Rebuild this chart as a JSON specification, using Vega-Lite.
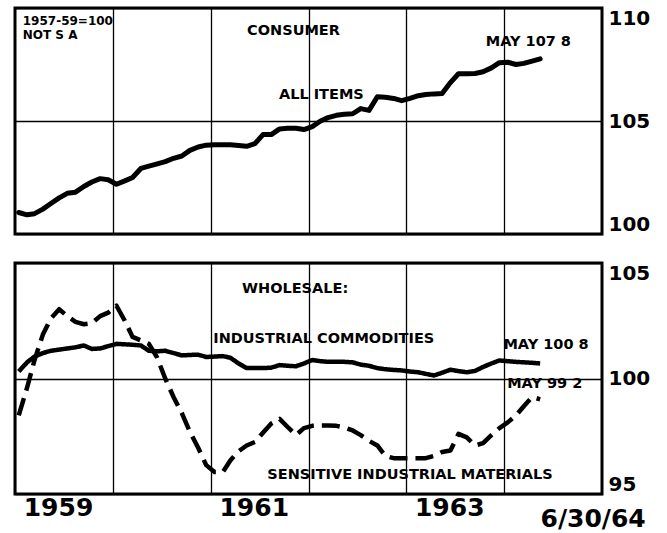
{
  "$schema": "https://vega.github.io/schema/vega-lite/v6.json",
  "padding": {"left": 13, "top": 6, "right": 0, "bottom": 0},
  "background": "white",
  "spacing": 25,
  "config": {
    "view": {"stroke": "black", "strokeWidth": 3},
    "axis": {"gridColor": "black", "gridOpacity": 1, "gridWidth": 1.3, "domain": false, "ticks": false, "labelFont": "DejaVu Sans", "labelFontWeight": "bold", "labelColor": "black"},
    "text": {"font": "DejaVu Sans", "fontWeight": "bold", "color": "black"}
  },
  "datasets": {
    "cpi": [
      {"date": "1959-01-15", "value": 100.95}, {"date": "1959-02-15", "value": 100.85}, {"date": "1959-03-15", "value": 100.9}, {"date": "1959-04-15", "value": 101.1}, {"date": "1959-05-15", "value": 101.35}, {"date": "1959-06-15", "value": 101.6}, {"date": "1959-07-15", "value": 101.8}, {"date": "1959-08-15", "value": 101.85}, {"date": "1959-09-15", "value": 102.1}, {"date": "1959-10-15", "value": 102.3}, {"date": "1959-11-15", "value": 102.45}, {"date": "1959-12-15", "value": 102.4},
      {"date": "1960-01-15", "value": 102.2}, {"date": "1960-02-15", "value": 102.35}, {"date": "1960-03-15", "value": 102.5}, {"date": "1960-04-15", "value": 102.9}, {"date": "1960-05-15", "value": 103.0}, {"date": "1960-06-15", "value": 103.1}, {"date": "1960-07-15", "value": 103.2}, {"date": "1960-08-15", "value": 103.35}, {"date": "1960-09-15", "value": 103.45}, {"date": "1960-10-15", "value": 103.7}, {"date": "1960-11-15", "value": 103.85}, {"date": "1960-12-15", "value": 103.93},
      {"date": "1961-01-15", "value": 103.95}, {"date": "1961-02-15", "value": 103.95}, {"date": "1961-03-15", "value": 103.95}, {"date": "1961-04-15", "value": 103.92}, {"date": "1961-05-15", "value": 103.88}, {"date": "1961-06-15", "value": 104.0}, {"date": "1961-07-15", "value": 104.4}, {"date": "1961-08-15", "value": 104.4}, {"date": "1961-09-15", "value": 104.65}, {"date": "1961-10-15", "value": 104.68}, {"date": "1961-11-15", "value": 104.68}, {"date": "1961-12-15", "value": 104.62},
      {"date": "1962-01-15", "value": 104.75}, {"date": "1962-02-15", "value": 105.0}, {"date": "1962-03-15", "value": 105.15}, {"date": "1962-04-15", "value": 105.25}, {"date": "1962-05-15", "value": 105.3}, {"date": "1962-06-15", "value": 105.32}, {"date": "1962-07-15", "value": 105.55}, {"date": "1962-08-15", "value": 105.47}, {"date": "1962-09-15", "value": 106.07}, {"date": "1962-10-15", "value": 106.05}, {"date": "1962-11-15", "value": 106.0}, {"date": "1962-12-15", "value": 105.9},
      {"date": "1963-01-15", "value": 106.0}, {"date": "1963-02-15", "value": 106.12}, {"date": "1963-03-15", "value": 106.17}, {"date": "1963-04-15", "value": 106.2}, {"date": "1963-05-15", "value": 106.22}, {"date": "1963-06-15", "value": 106.7}, {"date": "1963-07-15", "value": 107.09}, {"date": "1963-08-15", "value": 107.09}, {"date": "1963-09-15", "value": 107.1}, {"date": "1963-10-15", "value": 107.18}, {"date": "1963-11-15", "value": 107.35}, {"date": "1963-12-15", "value": 107.58},
      {"date": "1964-01-15", "value": 107.6}, {"date": "1964-02-15", "value": 107.5}, {"date": "1964-03-15", "value": 107.55}, {"date": "1964-04-15", "value": 107.65}, {"date": "1964-05-15", "value": 107.75}
    ],
    "wpi": [
      {"date": "1959-01-15", "series": "Industrial commodities", "value": 100.3}, {"date": "1959-02-15", "series": "Industrial commodities", "value": 100.7}, {"date": "1959-03-15", "series": "Industrial commodities", "value": 100.95}, {"date": "1959-04-15", "series": "Industrial commodities", "value": 101.1}, {"date": "1959-05-15", "series": "Industrial commodities", "value": 101.2}, {"date": "1959-06-15", "series": "Industrial commodities", "value": 101.25}, {"date": "1959-07-15", "series": "Industrial commodities", "value": 101.3}, {"date": "1959-08-15", "series": "Industrial commodities", "value": 101.35}, {"date": "1959-09-15", "series": "Industrial commodities", "value": 101.43}, {"date": "1959-10-15", "series": "Industrial commodities", "value": 101.28}, {"date": "1959-11-15", "series": "Industrial commodities", "value": 101.3}, {"date": "1959-12-15", "series": "Industrial commodities", "value": 101.4},
      {"date": "1960-01-15", "series": "Industrial commodities", "value": 101.5}, {"date": "1960-02-15", "series": "Industrial commodities", "value": 101.48}, {"date": "1960-03-15", "series": "Industrial commodities", "value": 101.46}, {"date": "1960-04-15", "series": "Industrial commodities", "value": 101.43}, {"date": "1960-05-15", "series": "Industrial commodities", "value": 101.2}, {"date": "1960-06-15", "series": "Industrial commodities", "value": 101.18}, {"date": "1960-07-15", "series": "Industrial commodities", "value": 101.2}, {"date": "1960-08-15", "series": "Industrial commodities", "value": 101.1}, {"date": "1960-09-15", "series": "Industrial commodities", "value": 101.0}, {"date": "1960-10-15", "series": "Industrial commodities", "value": 101.02}, {"date": "1960-11-15", "series": "Industrial commodities", "value": 101.03}, {"date": "1960-12-15", "series": "Industrial commodities", "value": 100.93},
      {"date": "1961-01-15", "series": "Industrial commodities", "value": 100.95}, {"date": "1961-02-15", "series": "Industrial commodities", "value": 100.97}, {"date": "1961-03-15", "series": "Industrial commodities", "value": 100.9}, {"date": "1961-04-15", "series": "Industrial commodities", "value": 100.65}, {"date": "1961-05-15", "series": "Industrial commodities", "value": 100.45}, {"date": "1961-06-15", "series": "Industrial commodities", "value": 100.45}, {"date": "1961-07-15", "series": "Industrial commodities", "value": 100.45}, {"date": "1961-08-15", "series": "Industrial commodities", "value": 100.47}, {"date": "1961-09-15", "series": "Industrial commodities", "value": 100.58}, {"date": "1961-10-15", "series": "Industrial commodities", "value": 100.55}, {"date": "1961-11-15", "series": "Industrial commodities", "value": 100.53}, {"date": "1961-12-15", "series": "Industrial commodities", "value": 100.65},
      {"date": "1962-01-15", "series": "Industrial commodities", "value": 100.8}, {"date": "1962-02-15", "series": "Industrial commodities", "value": 100.75}, {"date": "1962-03-15", "series": "Industrial commodities", "value": 100.72}, {"date": "1962-04-15", "series": "Industrial commodities", "value": 100.72}, {"date": "1962-05-15", "series": "Industrial commodities", "value": 100.72}, {"date": "1962-06-15", "series": "Industrial commodities", "value": 100.7}, {"date": "1962-07-15", "series": "Industrial commodities", "value": 100.6}, {"date": "1962-08-15", "series": "Industrial commodities", "value": 100.55}, {"date": "1962-09-15", "series": "Industrial commodities", "value": 100.45}, {"date": "1962-10-15", "series": "Industrial commodities", "value": 100.4}, {"date": "1962-11-15", "series": "Industrial commodities", "value": 100.37}, {"date": "1962-12-15", "series": "Industrial commodities", "value": 100.35},
      {"date": "1963-01-15", "series": "Industrial commodities", "value": 100.3}, {"date": "1963-02-15", "series": "Industrial commodities", "value": 100.27}, {"date": "1963-03-15", "series": "Industrial commodities", "value": 100.2}, {"date": "1963-04-15", "series": "Industrial commodities", "value": 100.13}, {"date": "1963-05-15", "series": "Industrial commodities", "value": 100.25}, {"date": "1963-06-15", "series": "Industrial commodities", "value": 100.38}, {"date": "1963-07-15", "series": "Industrial commodities", "value": 100.32}, {"date": "1963-08-15", "series": "Industrial commodities", "value": 100.27}, {"date": "1963-09-15", "series": "Industrial commodities", "value": 100.33}, {"date": "1963-10-15", "series": "Industrial commodities", "value": 100.5}, {"date": "1963-11-15", "series": "Industrial commodities", "value": 100.65}, {"date": "1963-12-15", "series": "Industrial commodities", "value": 100.78},
      {"date": "1964-01-15", "series": "Industrial commodities", "value": 100.75}, {"date": "1964-02-15", "series": "Industrial commodities", "value": 100.72}, {"date": "1964-03-15", "series": "Industrial commodities", "value": 100.7}, {"date": "1964-04-15", "series": "Industrial commodities", "value": 100.68}, {"date": "1964-05-15", "series": "Industrial commodities", "value": 100.65},
      {"date": "1959-01-15", "series": "Sensitive industrial materials", "value": 98.4}, {"date": "1959-02-15", "series": "Sensitive industrial materials", "value": 99.6}, {"date": "1959-03-15", "series": "Sensitive industrial materials", "value": 100.8}, {"date": "1959-04-15", "series": "Sensitive industrial materials", "value": 101.9}, {"date": "1959-05-15", "series": "Sensitive industrial materials", "value": 102.6}, {"date": "1959-06-15", "series": "Sensitive industrial materials", "value": 103.0}, {"date": "1959-07-15", "series": "Sensitive industrial materials", "value": 102.7}, {"date": "1959-08-15", "series": "Sensitive industrial materials", "value": 102.45}, {"date": "1959-09-15", "series": "Sensitive industrial materials", "value": 102.35}, {"date": "1959-10-15", "series": "Sensitive industrial materials", "value": 102.4}, {"date": "1959-11-15", "series": "Sensitive industrial materials", "value": 102.7}, {"date": "1959-12-15", "series": "Sensitive industrial materials", "value": 102.85},
      {"date": "1960-01-15", "series": "Sensitive industrial materials", "value": 103.15}, {"date": "1960-02-15", "series": "Sensitive industrial materials", "value": 102.5}, {"date": "1960-03-15", "series": "Sensitive industrial materials", "value": 101.8}, {"date": "1960-04-15", "series": "Sensitive industrial materials", "value": 101.65}, {"date": "1960-05-15", "series": "Sensitive industrial materials", "value": 101.5}, {"date": "1960-06-15", "series": "Sensitive industrial materials", "value": 100.9}, {"date": "1960-07-15", "series": "Sensitive industrial materials", "value": 100.0}, {"date": "1960-08-15", "series": "Sensitive industrial materials", "value": 99.2}, {"date": "1960-09-15", "series": "Sensitive industrial materials", "value": 98.5}, {"date": "1960-10-15", "series": "Sensitive industrial materials", "value": 97.7}, {"date": "1960-11-15", "series": "Sensitive industrial materials", "value": 97.0}, {"date": "1960-12-15", "series": "Sensitive industrial materials", "value": 96.25},
      {"date": "1961-01-15", "series": "Sensitive industrial materials", "value": 95.95}, {"date": "1961-02-15", "series": "Sensitive industrial materials", "value": 95.95}, {"date": "1961-03-15", "series": "Sensitive industrial materials", "value": 96.45}, {"date": "1961-04-15", "series": "Sensitive industrial materials", "value": 96.85}, {"date": "1961-05-15", "series": "Sensitive industrial materials", "value": 97.1}, {"date": "1961-06-15", "series": "Sensitive industrial materials", "value": 97.25}, {"date": "1961-07-15", "series": "Sensitive industrial materials", "value": 97.65}, {"date": "1961-08-15", "series": "Sensitive industrial materials", "value": 98.05}, {"date": "1961-09-15", "series": "Sensitive industrial materials", "value": 98.25}, {"date": "1961-10-15", "series": "Sensitive industrial materials", "value": 97.9}, {"date": "1961-11-15", "series": "Sensitive industrial materials", "value": 97.55}, {"date": "1961-12-15", "series": "Sensitive industrial materials", "value": 97.85},
      {"date": "1962-01-15", "series": "Sensitive industrial materials", "value": 97.95}, {"date": "1962-02-15", "series": "Sensitive industrial materials", "value": 97.97}, {"date": "1962-03-15", "series": "Sensitive industrial materials", "value": 97.97}, {"date": "1962-04-15", "series": "Sensitive industrial materials", "value": 97.95}, {"date": "1962-05-15", "series": "Sensitive industrial materials", "value": 97.88}, {"date": "1962-06-15", "series": "Sensitive industrial materials", "value": 97.75}, {"date": "1962-07-15", "series": "Sensitive industrial materials", "value": 97.55}, {"date": "1962-08-15", "series": "Sensitive industrial materials", "value": 97.3}, {"date": "1962-09-15", "series": "Sensitive industrial materials", "value": 97.1}, {"date": "1962-10-15", "series": "Sensitive industrial materials", "value": 96.65}, {"date": "1962-11-15", "series": "Sensitive industrial materials", "value": 96.55}, {"date": "1962-12-15", "series": "Sensitive industrial materials", "value": 96.55},
      {"date": "1963-01-15", "series": "Sensitive industrial materials", "value": 96.55}, {"date": "1963-02-15", "series": "Sensitive industrial materials", "value": 96.55}, {"date": "1963-03-15", "series": "Sensitive industrial materials", "value": 96.55}, {"date": "1963-04-15", "series": "Sensitive industrial materials", "value": 96.65}, {"date": "1963-05-15", "series": "Sensitive industrial materials", "value": 96.82}, {"date": "1963-06-15", "series": "Sensitive industrial materials", "value": 96.88}, {"date": "1963-07-15", "series": "Sensitive industrial materials", "value": 97.6}, {"date": "1963-08-15", "series": "Sensitive industrial materials", "value": 97.45}, {"date": "1963-09-15", "series": "Sensitive industrial materials", "value": 97.1}, {"date": "1963-10-15", "series": "Sensitive industrial materials", "value": 97.2}, {"date": "1963-11-15", "series": "Sensitive industrial materials", "value": 97.55}, {"date": "1963-12-15", "series": "Sensitive industrial materials", "value": 97.85},
      {"date": "1964-01-15", "series": "Sensitive industrial materials", "value": 98.1}, {"date": "1964-02-15", "series": "Sensitive industrial materials", "value": 98.4}, {"date": "1964-03-15", "series": "Sensitive industrial materials", "value": 98.8}, {"date": "1964-04-15", "series": "Sensitive industrial materials", "value": 99.2}, {"date": "1964-05-15", "series": "Sensitive industrial materials", "value": 99.1}
    ],
    "notes": [
      {"panel": "top", "role": "base", "date": "1959-01-30", "value": 109.42, "label": "1957-59=100"},
      {"panel": "top", "role": "base", "date": "1959-01-30", "value": 108.8, "label": "NOT S A"},
      {"panel": "top", "role": "label", "date": "1961-11-06", "value": 108.98, "label": "CONSUMER"},
      {"panel": "top", "role": "label", "date": "1962-02-18", "value": 106.15, "label": "ALL ITEMS"},
      {"panel": "top", "role": "label", "date": "1964-04-01", "value": 108.5, "label": "MAY 107 8"},
      {"panel": "bottom", "role": "label", "date": "1961-11-12", "value": 103.87, "label": "WHOLESALE:"},
      {"panel": "bottom", "role": "label", "date": "1962-02-27", "value": 101.71, "label": "INDUSTRIAL COMMODITIES"},
      {"panel": "bottom", "role": "label", "date": "1964-06-06", "value": 101.45, "label": "MAY 100 8"},
      {"panel": "bottom", "role": "label", "date": "1964-06-01", "value": 99.76, "label": "MAY 99 2"},
      {"panel": "bottom", "role": "label", "date": "1963-01-15", "value": 95.82, "label": "SENSITIVE INDUSTRIAL MATERIALS"}
    ],
    "ticks": [
      {"date": "1964-01-01"}, {"date": "1964-02-01"}, {"date": "1964-03-01"}, {"date": "1964-04-01"}, {"date": "1964-05-01"}, {"date": "1964-06-01"}, {"date": "1964-07-01"}, {"date": "1964-08-01"}, {"date": "1964-09-01"}, {"date": "1964-10-01"}, {"date": "1964-11-01"}, {"date": "1964-12-01"}
    ]
  },
  "vconcat": [
    {
      "width": 587,
      "height": 226,
      "encoding": {
        "x": {"field": "date", "type": "temporal", "scale": {"domain": [{"year": 1959, "month": 1, "date": 1}, {"year": 1965, "month": 1, "date": 1}]}, "axis": {"values": [{"year": 1960, "month": 1, "date": 1}, {"year": 1961, "month": 1, "date": 1}, {"year": 1962, "month": 1, "date": 1}, {"year": 1963, "month": 1, "date": 1}, {"year": 1964, "month": 1, "date": 1}], "labels": false, "grid": true, "title": null}},
        "y": {"field": "value", "type": "quantitative", "scale": {"domain": [100, 110], "nice": false, "zero": false}, "axis": {"orient": "right", "values": [100, 105, 110], "grid": true, "labelFontSize": 20, "labelPadding": 6, "labelFlush": true, "title": null}}
      },
      "layer": [
        {
          "data": {"name": "cpi"},
          "mark": {"type": "line", "color": "black", "strokeWidth": 5, "strokeJoin": "round", "strokeCap": "round"}
        },
        {
          "data": {"name": "notes"},
          "transform": [{"filter": "datum.panel == 'top' && datum.role == 'label'"}],
          "mark": {"type": "text", "fontSize": 14.5, "align": "center", "baseline": "middle"},
          "encoding": {"text": {"field": "label"}}
        },
        {
          "data": {"name": "notes"},
          "transform": [{"filter": "datum.panel == 'top' && datum.role == 'base'"}],
          "mark": {"type": "text", "fontSize": 12, "align": "left", "baseline": "middle"},
          "encoding": {"text": {"field": "label"}}
        }
      ]
    },
    {
      "width": 587,
      "height": 231,
      "title": {"text": "6/30/64", "orient": "bottom", "anchor": "end", "fontSize": 25, "font": "DejaVu Sans", "fontWeight": "bold", "color": "black", "dx": -4, "offset": -13},
      "encoding": {
        "x": {"field": "date", "type": "temporal", "scale": {"domain": [{"year": 1959, "month": 1, "date": 1}, {"year": 1965, "month": 1, "date": 1}]}, "axis": {"values": [{"year": 1959, "month": 1, "date": 1}, {"year": 1960, "month": 1, "date": 1}, {"year": 1961, "month": 1, "date": 1}, {"year": 1962, "month": 1, "date": 1}, {"year": 1963, "month": 1, "date": 1}, {"year": 1964, "month": 1, "date": 1}], "grid": true, "labelExpr": "year(datum.value) % 2 == 1 ? timeFormat(datum.value, '%Y') : ''", "labelOffset": 43, "labelFlush": false, "labelOverlap": false, "labelFontSize": 25, "labelPadding": 1, "title": null}},
        "y": {"field": "value", "type": "quantitative", "scale": {"domain": [95, 105], "nice": false, "zero": false}, "axis": {"orient": "right", "values": [95, 100, 105], "grid": true, "labelFontSize": 20, "labelPadding": 6, "labelFlush": true, "title": null}}
      },
      "layer": [
        {
          "data": {"name": "wpi"},
          "mark": {"type": "line", "color": "black", "strokeWidth": 4.5, "strokeJoin": "round"},
          "encoding": {
            "strokeDash": {"field": "series", "type": "nominal", "scale": {"domain": ["Industrial commodities", "Sensitive industrial materials"], "range": [[1, 0], [18, 8]]}, "legend": null}
          }
        },
        {
          "data": {"name": "notes"},
          "transform": [{"filter": "datum.panel == 'bottom'"}],
          "mark": {"type": "text", "fontSize": 14.5, "align": "center", "baseline": "middle"},
          "encoding": {"text": {"field": "label"}}
        },
        {
          "data": {"name": "ticks"},
          "mark": {"type": "rule", "color": "black", "strokeWidth": 1.5},
          "encoding": {
            "y": {"datum": 95, "type": "quantitative", "scale": {"domain": [95, 105], "nice": false, "zero": false}, "axis": {"orient": "right", "values": [95, 100, 105], "grid": true, "labelFontSize": 20, "labelPadding": 6, "labelFlush": true, "title": null}},
            "y2": {"datum": 95.35}
          }
        }
      ]
    }
  ]
}
